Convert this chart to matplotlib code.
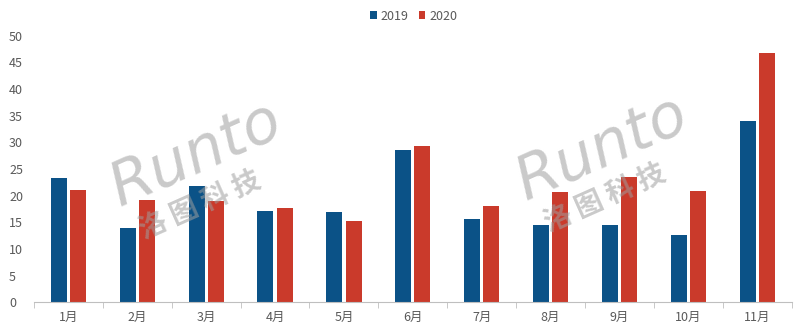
import matplotlib
matplotlib.use("Agg")
import matplotlib.pyplot as plt
import numpy as np

plt.rcParams['font.family'] = ['Noto Sans CJK SC', 'DejaVu Sans']

months = ['1月', '2月', '3月', '4月', '5月', '6月', '7月', '8月', '9月', '10月', '11月']
series_names = ['2019', '2020']
values_2019 = [23.3, 14.0, 21.8, 17.1, 16.9, 28.6, 15.6, 14.5, 14.5, 12.6, 34.0]
values_2020 = [21.1, 19.1, 18.9, 17.6, 15.3, 29.3, 18.1, 20.6, 23.5, 20.9, 46.8]
yticks = [0, 5, 10, 15, 20, 25, 30, 35, 40, 45, 50]

blue = '#0B5287'
red = '#CA3A2B'
gray_text = '#595959'

fig = plt.figure(figsize=(8, 3.31), dpi=100)
ax = fig.add_axes([0.0425, 0.0867, 0.947, 0.806])

x = np.arange(len(months))
w = 0.232
off = 0.14
ax.bar(x - off, values_2019, width=w, color=blue, label=series_names[0], zorder=2)
ax.bar(x + off, values_2020, width=w, color=red, label=series_names[1], zorder=2)

ax.set_xlim(-0.5, len(months) - 0.5)
ax.set_ylim(0, 50)
ax.set_yticks(yticks)
ax.set_yticklabels([str(v) for v in yticks])
ax.set_xticks(x)
ax.set_xticklabels(months)
ax.tick_params(axis='y', length=0, labelsize=9, colors=gray_text, pad=18)
ax.tick_params(axis='x', length=0, labelsize=9, colors=gray_text, pad=6)
for t in ax.get_yticklabels():
    t.set_horizontalalignment('left')

# minor ticks at category boundaries
ax.set_xticks(np.arange(-0.5, len(months)), minor=True)
ax.tick_params(axis='x', which='minor', length=4, color='#BFBFBF', direction='out')

for s in ['top', 'right', 'left']:
    ax.spines[s].set_visible(False)
ax.spines['bottom'].set_color('#BFBFBF')
ax.spines['bottom'].set_linewidth(0.8)

leg = fig.legend(loc='upper center', bbox_to_anchor=(0.517, 1.005), ncol=2, frameon=False,
                 fontsize=9, handlelength=0.55, handleheight=0.55, handletextpad=0.3,
                 columnspacing=0.8)
for t in leg.get_texts():
    t.set_color(gray_text)

# watermarks
for (wx, wy) in [(0.245, 0.53), (0.752, 0.55)]:
    fig.text(wx, wy, 'Runto', fontsize=44, color='#9E9E9E', alpha=0.55, rotation=24,
             ha='center', va='center', family='DejaVu Sans', style='italic', zorder=5)
    fig.text(wx + 0.005, wy - 0.15, '洛 图 科 技', fontsize=20, color='#9E9E9E', alpha=0.55,
             rotation=24, ha='center', va='center', weight='bold', zorder=5)

fig.savefig('out.png', dpi=100)
